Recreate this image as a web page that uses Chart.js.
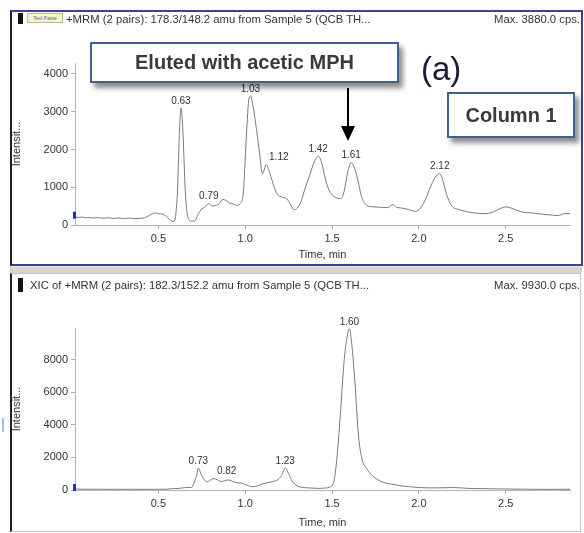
<!DOCTYPE html>
<html>
<head>
<meta charset="utf-8">
<script src="https://cdn.jsdelivr.net/npm/chart.js@4.4.1/dist/chart.umd.min.js"></script>
<style>
  body { margin: 0; background: #fff; font-family: "Liberation Sans", Arial, sans-serif; }
  #page { position: relative; width: 584px; height: 533px; overflow: hidden; }
  canvas { position: absolute; left: 0; }
  .frame { position: absolute; box-sizing: border-box; pointer-events: none; }
  .hdr { position: absolute; font-size: 11.3px; color: #333; white-space: nowrap; line-height: 13px; }
  .callout { position: absolute; box-sizing: border-box; background: #fff; border: 2px solid #40608f;
             box-shadow: 4px 5px 5px rgba(0,0,0,0.45); font-weight: bold; color: #3a3a3a;
             display: flex; align-items: center; justify-content: center; }
</style>
</head>
<body>
<div id="page">
  <canvas id="topChart" width="584" height="264" style="top:0"></canvas>
  <canvas id="bottomChart" width="584" height="267" style="top:266px"></canvas>

  <!-- panel frames -->
  <div class="frame" style="left:10px;top:10px;width:573px;height:256px;border:2px solid #3e419c;border-left-color:#222;"></div>
  <div class="frame" style="left:10px;top:266px;width:572px;height:7px;background:#d6d6ce;border-top:1px solid #ecece6;"></div>
  <div class="frame" style="left:10px;top:273px;width:571px;height:259px;border:1px solid #c4c4c4;border-left:2px solid #222;"></div>
  <div class="frame" style="left:2px;top:418px;width:2px;height:14px;background:#9fc3e6;"></div>

  <!-- trace headers -->
  <div class="frame" style="left:18px;top:13px;width:5px;height:11px;background:#111;"></div>
  <div class="frame" style="left:27px;top:13px;width:36px;height:10px;background:#f4f4d2;border:1px solid #b8b890;font-size:5px;line-height:8px;color:#666;text-align:center;">Text Paste</div>
  <div class="hdr" style="left:66px;top:13px;">+MRM (2 pairs): 178.3/148.2 amu from Sample 5 (QCB TH...</div>
  <div class="hdr" style="right:4px;top:13px;">Max. 3880.0 cps.</div>

  <div class="frame" style="left:18px;top:278px;width:5px;height:14px;background:#111;"></div>
  <div class="hdr" style="left:30px;top:279px;">XIC of +MRM (2 pairs): 182.3/152.2 amu from Sample 5 (QCB TH...</div>
  <div class="hdr" style="right:4px;top:279px;">Max. 9930.0 cps.</div>

  <!-- annotations on the first trace -->
  <div class="callout" style="left:90px;top:42px;width:309px;height:41px;font-size:20px;">Eluted with acetic MPH</div>
  <div class="hdr" style="left:421px;top:50px;font-size:33px;line-height:38px;color:#1b1b3c;">(a)</div>
  <div class="callout" style="left:447px;top:92px;width:128px;height:46px;font-size:20px;">Column 1</div>
  <svg class="frame" style="left:338px;top:86px;" width="22" height="58">
    <line x1="10" y1="2" x2="10" y2="42" stroke="#000" stroke-width="2"/>
    <polygon points="3,40 17,40 10,55" fill="#000"/>
  </svg>
</div>

<script>
// retention time (min) and intensity (cps)
const xTicks = [0.5, 1.0, 1.5, 2.0, 2.5];

const topTime = [0.02, 0.04, 0.06, 0.08, 0.10, 0.12, 0.15, 0.18, 0.21, 0.24, 0.27, 0.30, 0.33, 0.36, 0.39,
  0.42, 0.45, 0.48, 0.50, 0.52, 0.55, 0.57, 0.59, 0.61, 0.62, 0.63, 0.64, 0.655, 0.67, 0.69, 0.71, 0.73,
  0.75, 0.77, 0.79, 0.81, 0.83, 0.85, 0.87, 0.89, 0.91, 0.93, 0.95, 0.97, 0.99, 1.005, 1.02, 1.03, 1.045,
  1.06, 1.08, 1.10, 1.12, 1.14, 1.16, 1.18, 1.20, 1.22, 1.24, 1.26, 1.28, 1.30, 1.32, 1.34, 1.37, 1.40,
  1.42, 1.44, 1.46, 1.48, 1.50, 1.53, 1.55, 1.57, 1.59, 1.61, 1.63, 1.65, 1.67, 1.70, 1.74, 1.78, 1.82,
  1.85, 1.87, 1.90, 1.94, 1.98, 2.01, 2.04, 2.07, 2.10, 2.12, 2.14, 2.16, 2.19, 2.22, 2.26, 2.30, 2.34,
  2.38, 2.42, 2.46, 2.50, 2.53, 2.57, 2.61, 2.65, 2.70, 2.75, 2.80, 2.84, 2.87];
const topIntensity = [220, 200, 210, 190, 200, 185, 195, 180, 190, 175, 185, 170, 180, 170, 175,
  190, 260, 320, 300, 290, 220, 120, 90, 900, 2300, 3100, 2600, 900, 200, 100, 110, 300,
  420, 480, 570, 500, 520, 560, 680, 650, 580, 560, 520, 560, 900, 2200, 3300, 3420, 3150,
  2700, 2000, 1350, 1600, 1400, 1100, 850, 760, 730, 690, 550, 400, 450, 600, 900, 1300, 1700,
  1820, 1650, 1250, 950, 800, 710, 700, 900, 1400, 1650, 1500, 1150, 750, 520, 480, 470, 460,
  540, 470, 450, 410, 360, 450, 700, 1050, 1300, 1360, 1150, 800, 500, 420, 370, 330, 310,
  300, 330, 420, 480, 450, 380, 330, 320, 290, 270, 250, 300, 300];
const topPeaks = [0.63, 0.79, 1.03, 1.12, 1.42, 1.61, 2.12];
const topYTicks = [0, 1000, 2000, 3000, 4000];

const bottomTime = [0.02, 0.06, 0.10, 0.15, 0.20, 0.25, 0.30, 0.35, 0.40, 0.45, 0.50, 0.55, 0.58, 0.62,
  0.66, 0.69, 0.70, 0.72, 0.73, 0.745, 0.76, 0.78, 0.80, 0.82, 0.84, 0.86, 0.88, 0.90, 0.92, 0.95, 0.98,
  1.01, 1.04, 1.07, 1.10, 1.13, 1.16, 1.19, 1.21, 1.23, 1.25, 1.27, 1.30, 1.34, 1.38, 1.42, 1.46, 1.49,
  1.51, 1.53, 1.55, 1.57, 1.59, 1.60, 1.61, 1.63, 1.65, 1.67, 1.70, 1.73, 1.76, 1.80, 1.85, 1.90, 1.95,
  2.00, 2.10, 2.20, 2.30, 2.40, 2.50, 2.60, 2.70, 2.80, 2.87];
const bottomIntensity = [60, 50, 45, 50, 40, 45, 40, 45, 40, 40, 45, 50, 80, 100,
  150, 160, 300, 900, 1350, 1000, 700, 500, 600, 700, 620, 520, 560, 620, 560, 450, 420,
  300, 200, 250, 380, 450, 520, 650, 900, 1350, 1000, 550, 250, 150, 120, 100, 120, 200,
  500, 2200, 5000, 8000, 9600, 9900, 9300, 6900, 3600, 2000, 1300, 900, 650, 450, 350, 250, 200,
  150, 130, 150, 90, 80, 60, 50, 40, 40, 50];
const bottomPeaks = [0.73, 0.82, 1.23, 1.60];
const bottomYTicks = [0, 2000, 4000, 6000, 8000];

const FONT = { family: '"Liberation Sans", Arial, sans-serif', size: 11 };

// retention-time labels above the apexes, plus the blue start marker of the trace
const peakLabels = {
  id: 'peakLabels',
  afterDatasetsDraw(chart, args, opts) {
    const { ctx, scales: { x, y } } = chart;
    const pts = chart.data.datasets[0].data;
    ctx.save();
    ctx.font = '10px "Liberation Sans", Arial, sans-serif';
    ctx.fillStyle = '#333';
    ctx.textBaseline = 'bottom';
    opts.times.forEach(t => {
      const p = pts.reduce((a, b) => Math.abs(b.x - t) < Math.abs(a.x - t) ? b : a);
      const px = x.getPixelForValue(p.x);
      const py = y.getPixelForValue(p.y);
      const side = opts.side.includes(t);
      ctx.textAlign = side ? 'left' : 'center';
      ctx.fillText(t.toFixed(2), side ? px + 3 : px, py - 2);
    });
    const first = pts[0];
    ctx.fillStyle = '#1f2fd0';
    ctx.fillRect(x.getPixelForValue(first.x) - 2, y.getPixelForValue(first.y) - 5, 3, 7);
    ctx.restore();
  }
};

function makeChart(id, time, values, peaks, side, yTicks, yMax, top, axisHeight, titlePad) {
  const points = time.map((t, i) => ({ x: t, y: values[i] }));
  return new Chart(document.getElementById(id), {
    type: 'line',
    data: {
      datasets: [{
        data: points,
        borderColor: '#7a7a7a',
        borderWidth: 1,
        pointRadius: 0,
        cubicInterpolationMode: 'monotone',
        fill: false,
      }],
    },
    options: {
      responsive: false,
      animation: false,
      layout: { padding: { left: 8, right: 14, top: top, bottom: 0 } },
      plugins: {
        legend: { display: false },
        tooltip: { enabled: false },
        peakLabels: { times: peaks, side: side },
      },
      scales: {
        x: {
          type: 'linear',
          min: 0.02,
          max: 2.87,
          afterBuildTicks: s => { s.ticks = xTicks.map(v => ({ value: v })); },
          afterFit: s => { s.height = axisHeight; },
          grid: { display: true, drawOnChartArea: false, tickLength: 4, color: '#aaa' },
          border: { color: '#b5b5b5' },
          ticks: { color: '#333', font: FONT, padding: 3, maxRotation: 0, callback: v => v.toFixed(1) },
          title: { display: true, text: 'Time, min', color: '#333', font: FONT, padding: { top: 0, bottom: titlePad } },
        },
        y: {
          min: 0,
          max: yMax,
          afterBuildTicks: s => { s.ticks = yTicks.map(v => ({ value: v })); },
          afterFit: s => { s.width = 67; },
          grid: { display: true, drawOnChartArea: false, tickLength: 4, color: '#aaa' },
          border: { color: '#b5b5b5' },
          ticks: { color: '#333', font: FONT, padding: 3, callback: v => String(v) },
          title: { display: true, text: 'Intensit...', color: '#333', font: FONT, padding: { top: 2, bottom: 0 } },
        },
      },
    },
    plugins: [peakLabels],
  });
}

makeChart('topChart', topTime, topIntensity, topPeaks, [1.12], topYTicks, 4290, 63, 39, 2);
makeChart('bottomChart', bottomTime, bottomIntensity, bottomPeaks, [0.82], bottomYTicks, 9950, 62, 43, 3);
</script>
</body>
</html>
